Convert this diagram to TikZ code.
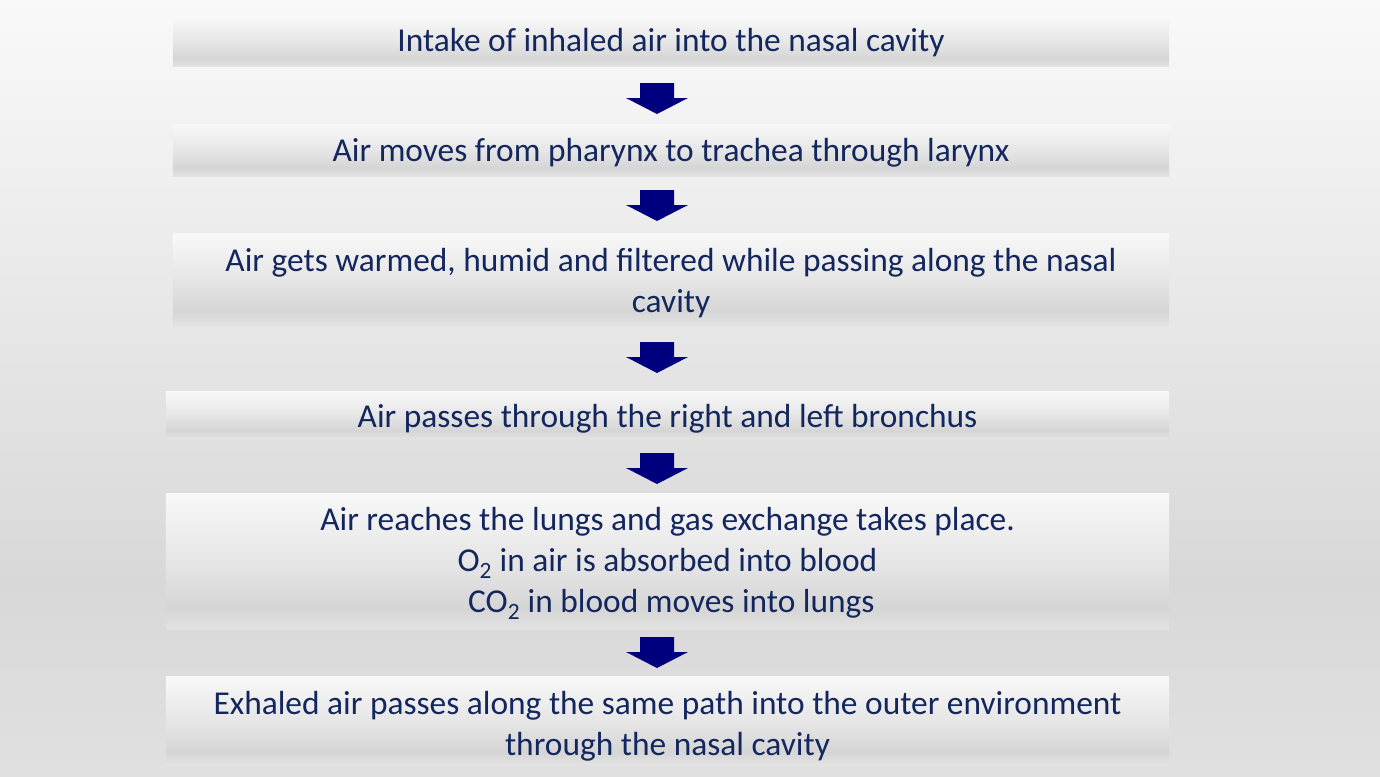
\documentclass[tikz,border=0pt]{standalone}
\usepackage{fontspec}
\setmainfont{Carlito}
\usetikzlibrary{calc}
\definecolor{txtnavy}{HTML}{13275E}
\definecolor{arrnavy}{HTML}{00007F}
\definecolor{bgtop}{HTML}{F9F9F9}
\definecolor{bgmid}{HTML}{D8D8D8}
\definecolor{bgbot}{HTML}{E0E0E0}
\definecolor{bxtop}{HTML}{F8F8F8}
\definecolor{bxmid}{HTML}{E6E6E6}
\definecolor{bxdark}{HTML}{D5D5D5}
\definecolor{bxbot}{HTML}{E2E2E2}
\pgfdeclareverticalshading{bgshade}{100bp}{color(0bp)=(bgbot); color(25bp)=(bgbot); color(37.5bp)=(bgmid); color(75bp)=(bgtop); color(100bp)=(bgtop)}
\pgfdeclareverticalshading{boxshade}{100bp}{color(0bp)=(bxbot); color(25bp)=(bxbot); color(32.5bp)=(bxdark); color(50bp)=(bxmid); color(75bp)=(bxtop); color(100bp)=(bxtop)}
\tikzset{
  stepbox/.style={rectangle, inner sep=0pt, shading=boxshade},
  steptext/.style={inner sep=0pt, text=txtnavy, align=center,
    font=\fontsize{33.4bp}{41bp}\selectfont},
  downarr/.pic={\fill[arrnavy] (-17,0) -- (17,0) -- (17,15) -- (31,15) -- (0,31) -- (-31,15) -- (-17,15) -- cycle;}
}
\begin{document}
\begin{tikzpicture}[x=1bp,y=-1bp]
\useasboundingbox (0,0) rectangle (1380,776);
\shade[shading=bgshade] (0,0) rectangle (1380,776);
\node[stepbox, minimum width=996bp, minimum height=49bp] (b1) at (671,41.5) {};
\node[stepbox, minimum width=996bp, minimum height=52bp] (b2) at (671,150) {};
\node[stepbox, minimum width=996bp, minimum height=92bp] (b3) at (671,279) {};
\node[stepbox, minimum width=1003bp, minimum height=47bp] (b4) at (667.5,414.5) {};
\node[stepbox, minimum width=1003bp, minimum height=136bp] (b5) at (667.5,561) {};
\node[stepbox, minimum width=1003bp, minimum height=89bp] (b6) at (667.5,720.5) {};
\node[steptext] (t1) at ($(b1.center)+(0,1.5)$)
  {Intake of inhaled air into the nasal cavity};
\node[steptext] (t2) at ($(b2.center)+(0,3)$)
  {Air moves from pharynx to trachea through larynx};
\node[steptext] (t3) at ($(b3.center)+(0,4.5)$)
  {Air gets warmed, humid and filtered while passing along the nasal\\cavity};
\node[steptext] (t4) at ($(b4.center)+(0,4)$)
  {Air passes through the right and left bronchus};
\node[steptext] (t5) at ($(b5.center)+(0,2.5)$)
  {Air reaches the lungs and gas exchange takes place.\\O\textsubscript{2} in air is absorbed into blood\\\hspace*{0.23em}CO\textsubscript{2} in blood moves into lungs};
\node[steptext] (t6) at ($(b6.center)+(0,5.5)$)
  {Exhaled air passes along the same path into the outer environment\\through the nasal cavity};
\pic at (657,83) {downarr};
\pic at (657,190) {downarr};
\pic at (657,342) {downarr};
\pic at (657,453) {downarr};
\pic at (657,637) {downarr};
\end{tikzpicture}
\end{document}
